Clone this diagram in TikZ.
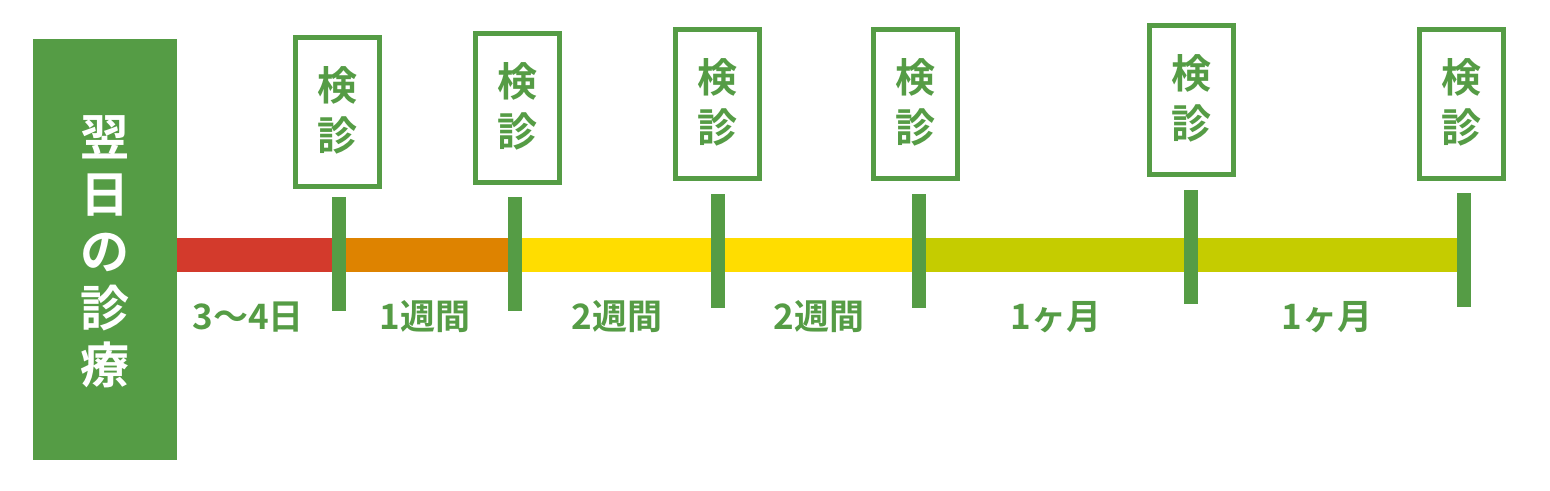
\documentclass[tikz,border=0pt]{standalone}
\usepackage{fontspec}
\setmainfont{Noto Sans CJK JP}[BoldFont={* Bold}]
\definecolor{kgreen}{RGB}{85,156,69}
\definecolor{kred}{RGB}{211,58,44}
\definecolor{korange}{RGB}{222,131,0}
\definecolor{kyellow}{RGB}{255,221,0}
\definecolor{kolive}{RGB}{197,204,0}
\tikzset{
  checkbox/.style={draw=kgreen, line width=5pt, fill=white, minimum width=84pt, minimum height=149pt,
    inner sep=0pt, align=center, text=kgreen, font=\fontsize{40}{50}\selectfont\bfseries, text depth=7pt},
  tick/.style={fill=kgreen, inner sep=0pt, minimum width=14pt, minimum height=114pt},
  seg/.style={inner sep=0pt, minimum height=34pt},
  period/.style={text=kgreen, inner sep=0pt, font=\fontsize{35}{35}\selectfont\bfseries},
}
\begin{document}
\begin{tikzpicture}[x=1pt,y=-1pt]
\useasboundingbox (0,0) rectangle (1550,490);
\fill[white] (0,0) rectangle (1550,490);
% left box
\node[fill=kgreen, minimum width=144pt, minimum height=421pt, inner sep=0pt] (main) at (105,249.5) {};
\node[text=white, align=center, inner sep=0pt, font=\fontsize{49}{57}\selectfont\bfseries] (maintext) at (105,252) {翌\\日\\の\\診\\療};
% bar segments
\node[seg, fill=kred, minimum width=162pt] (s1) at (258,255) {};
\node[seg, fill=korange, minimum width=176pt] (s2) at (427,255) {};
\node[seg, fill=kyellow, minimum width=404pt] (s3) at (717,255) {};
\node[seg, fill=kolive, minimum width=545pt] (s4) at (1191.5,255) {};
% ticks
\node[tick] (t1) at (339,254) {};
\node[tick] (t2) at (515,254) {};
\node[tick] (t3) at (717.5,250.5) {};
\node[tick] (t4) at (919,250.5) {};
\node[tick] (t5) at (1191,246.5) {};
\node[tick] (t6) at (1464,250) {};
% check boxes
\node[checkbox] (b1) at (337.5,111.5) {検\\診};
\node[checkbox] (b2) at (517.5,108) {検\\診};
\node[checkbox] (b3) at (717.5,104) {検\\診};
\node[checkbox] (b4) at (915.5,104) {検\\診};
\node[checkbox] (b5) at (1191.5,100) {検\\診};
\node[checkbox] (b6) at (1461.5,104) {検\\診};
% period labels
\node[period] (p1) at (248,317) {3～4日};
\node[period] (p2) at (425,317) {1週間};
\node[period] (p3) at (617,317) {2週間};
\node[period] (p4) at (819,317) {2週間};
\node[period] (p5) at (1056,317) {1ヶ月};
\node[period] (p6) at (1327,317) {1ヶ月};
\end{tikzpicture}
\end{document}
